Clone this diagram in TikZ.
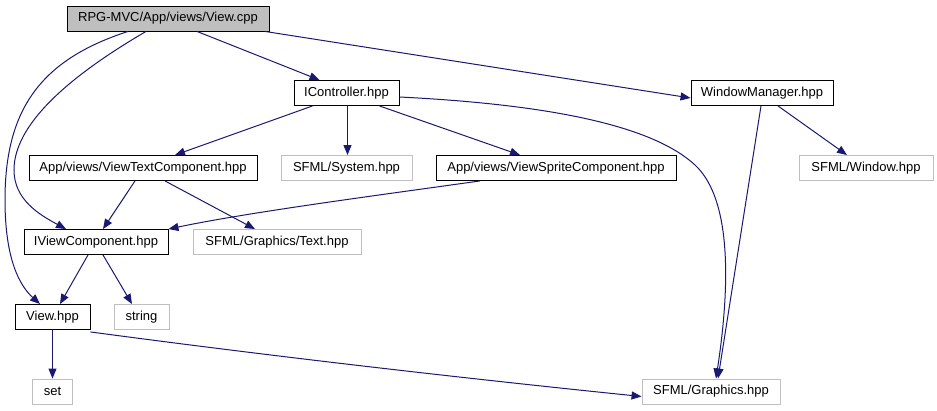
\documentclass[tikz,border=0pt]{standalone}
\usepackage{fontspec}
\setmainfont{Liberation Sans}
\usepackage{tikz}
\usetikzlibrary{positioning, arrows.meta}
\definecolor{edgeblue}{HTML}{191970}
\definecolor{boxgray}{HTML}{BFBFBF}

\begin{document}
\begin{tikzpicture}[x=1pt, y=-1pt, >={Triangle[length=10pt,width=8pt]},
    file/.style={draw=black, fill=white, line width=0.9pt, inner sep=0pt,
        minimum height=25pt, font=\fontsize{13}{15}\selectfont},
    sysfile/.style={file, draw=boxgray},
    rootfile/.style={file, fill=boxgray},
    dep/.style={->, edgeblue, line width=1pt}]
    \useasboundingbox (0,0) rectangle (937,411);
    % Top level
    \node[rootfile, minimum width=202pt] (cpp) at (168,18.5) {RPG-MVC/App/views/View.cpp};
    \node[file, minimum width=105pt] (ictl) at (346.5,93) {IController.hpp};
    \node[file, minimum width=142pt] (wm) at (762,93) {WindowManager.hpp};
    % Components
    \node[file, minimum width=228pt] (vtc) at (143,168) {App/views/ViewTextComponent.hpp};
    \node[sysfile, minimum width=131pt] (sys) at (346.5,168) {SFML/System.hpp};
    \node[file, minimum width=240pt] (vsc) at (556,168) {App/views/ViewSpriteComponent.hpp};
    \node[sysfile, minimum width=134pt] (win) at (866,168) {SFML/Window.hpp};
    \node[file, minimum width=144pt] (ivc) at (96,242) {IViewComponent.hpp};
    \node[sysfile, minimum width=168pt] (txt) at (277,242) {SFML/Graphics/Text.hpp};
    % Bottom
    \node[file, minimum width=75pt] (vhpp) at (52.5,317) {View.hpp};
    \node[sysfile, minimum width=55pt] (str) at (141.5,317) {string};
    \node[sysfile, minimum width=40pt] (set) at (52.5,391.5) {set};
    \node[sysfile, minimum width=138pt] (gfx) at (711,391.5) {SFML/Graphics.hpp};

    % Includes of View.cpp
    \draw[dep] ([xshift=-40pt]cpp.south) .. controls (40,60) and (5,110) .. (5,200)
        .. controls (5,260) and (20,286) .. ([xshift=-12.5pt]vhpp.north);
    \draw[dep] ([xshift=-22pt]cpp.south) .. controls (80,70) and (14,120) .. (14,170)
        .. controls (14,200) and (40,215) .. ([xshift=-30pt]ivc.north);
    \draw[dep] ([xshift=29pt]cpp.south) -- ([xshift=-27pt]ictl.north);
    \draw[dep] ([xshift=97pt]cpp.south) -- ([yshift=-5pt]wm.west);
    % IController.hpp
    \draw[dep] ([xshift=-34pt]ictl.south) -- ([xshift=32pt]vtc.north);
    \draw[dep] ([xshift=1pt]ictl.south) -- ([xshift=1pt]sys.north);
    \draw[dep] ([xshift=33pt]ictl.south) -- ([xshift=-36pt]vsc.north);
    \draw[dep] ([yshift=-4pt]ictl.east) .. controls (560,105) and (655,128) .. (695,165)
        .. controls (735,202) and (728,300) .. ([xshift=5pt]gfx.north);
    % WindowManager.hpp
    \draw[dep] ([xshift=16pt]wm.south) -- ([xshift=-19pt]win.north);
    \draw[dep] ([xshift=-1pt]wm.south) -- ([xshift=7pt]gfx.north);
    % Components
    \draw[dep] ([xshift=-8pt]vtc.south) -- ([xshift=7pt]ivc.north);
    \draw[dep] ([xshift=22pt]vtc.south) -- ([xshift=-22pt]txt.north);
    \draw[dep] ([xshift=-76pt]vsc.south) .. controls (380,195) and (250,212) .. (ivc.north east);
    \draw[dep] ([xshift=-8pt]ivc.south) -- ([xshift=7.5pt]vhpp.north);
    \draw[dep] ([xshift=7pt]ivc.south) -- ([xshift=-9.5pt]str.north);
    % View.hpp
    \draw[dep] (vhpp.south) -- (set.north);
    \draw[dep] ([yshift=-2pt]vhpp.south east) .. controls (300,360) and (500,382) .. ([yshift=-5pt]gfx.west);
\end{tikzpicture}
\end{document}
